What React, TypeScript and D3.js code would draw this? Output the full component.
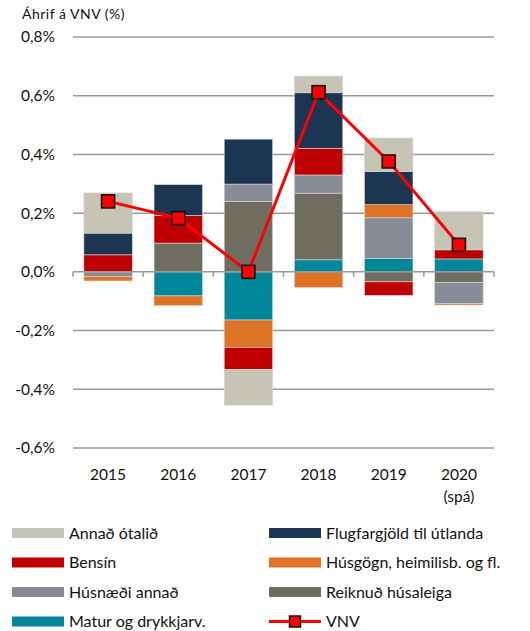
import { useRef, useEffect } from "react";
import * as d3 from "d3";

const years = ["2015", "2016", "2017", "2018", "2019", "2020"];
const yearSub = ["", "", "", "", "", "(spá)"];

// stacking order (bottom up)
const seriesNames = [
  "Matur og drykkjarv.",
  "Reiknuð húsaleiga",
  "Húsnæði annað",
  "Húsgögn, heimilisb. og fl.",
  "Bensín",
  "Flugfargjöld til útlanda",
  "Annað ótalið",
];
const seriesColors = ["#00889a", "#6e6d5f", "#878c96", "#e07426", "#c00000", "#1c3553", "#c6c5b5"];

const matur = [0, -0.082, -0.164, 0.041, 0.045, 0.044];
const reiknud = [0, 0.098, 0.24, 0.227, -0.034, -0.037];
const husnaedi = [-0.016, 0, 0.059, 0.062, 0.139, -0.071];
const husgogn = [-0.015, -0.033, -0.093, -0.053, 0.045, -0.005];
const bensin = [0.058, 0.094, -0.075, 0.091, -0.046, 0.031];
const flug = [0.074, 0.105, 0.153, 0.189, 0.113, 0];
const annad = [0.137, 0, -0.122, 0.057, 0.114, 0.13];
const vnv = [0.24, 0.183, 0.0, 0.612, 0.376, 0.092];

const yTicks = [0.8, 0.6, 0.4, 0.2, 0.0, -0.2, -0.4, -0.6];

// legend, two columns, read row by row
const legendItems = [
  "Annað ótalið",
  "Flugfargjöld til útlanda",
  "Bensín",
  "Húsgögn, heimilisb. og fl.",
  "Húsnæði annað",
  "Reiknuð húsaleiga",
  "Matur og drykkjarv.",
  "VNV",
];

const FONT = "Lato, 'Open Sans', sans-serif";

export default function App() {
  const svgRef = useRef<SVGSVGElement | null>(null);

  useEffect(() => {
    if (!svgRef.current) return;
    const svg = d3.select(svgRef.current);
    svg.selectAll("*").remove();

    const width = 530;
    const margin = { left: 73, right: 36 };

    const x = d3
      .scaleBand()
      .domain(years)
      .range([margin.left, width - margin.right])
      .paddingInner(0.31)
      .paddingOuter(0.155);

    const y = d3.scaleLinear().domain([-0.6, 0.8]).range([448, 37]);

    // gridlines
    svg
      .append("g")
      .selectAll("line")
      .data(yTicks.filter((t) => t !== 0))
      .join("line")
      .attr("x1", margin.left)
      .attr("x2", width - margin.right)
      .attr("y1", (d) => y(d))
      .attr("y2", (d) => y(d))
      .attr("stroke", "#9a9a9a")
      .attr("stroke-width", 1.5);

    // y labels
    svg
      .append("g")
      .selectAll("text")
      .data(yTicks)
      .join("text")
      .attr("x", 55)
      .attr("y", (d) => y(d))
      .attr("dy", "0.35em")
      .attr("text-anchor", "end")
      .attr("font-family", FONT)
      .attr("font-size", 15.5)
      .attr("fill", "#111")
      .text((d) => d3.format(".1f")(d).replace(".", ",").replace("−", "-") + "%");

    svg
      .append("text")
      .attr("x", 22)
      .attr("y", 19)
      .attr("font-family", FONT)
      .attr("font-size", 14)
      .attr("letter-spacing", 0.5)
      .attr("fill", "#111")
      .text("Áhrif á VNV (%)");

    // stacked bars
    const seriesData = [matur, reiknud, husnaedi, husgogn, bensin, flug, annad];
    const table = years.map((yr, i) => {
      const row: Record<string, any> = { year: yr };
      seriesNames.forEach((n, k) => (row[n] = seriesData[k][i]));
      return row;
    });
    const stack = d3.stack<any>().keys(seriesNames).offset(d3.stackOffsetDiverging)(table);

    svg
      .append("g")
      .selectAll("g")
      .data(stack)
      .join("g")
      .attr("fill", (_, i) => seriesColors[i])
      .selectAll("rect")
      .data((d) => d)
      .join("rect")
      .attr("x", (d) => x(d.data.year)!)
      .attr("width", x.bandwidth())
      .attr("y", (d) => y(Math.max(d[0], d[1])))
      .attr("height", (d) => Math.abs(y(d[0]) - y(d[1])))
      .attr("stroke", "#d8d8d8")
      .attr("stroke-width", (d) => (Math.abs(d[1] - d[0]) > 0.001 ? 0.6 : 0));

    // zero axis with ticks
    const axisG = svg.append("g").attr("stroke", "#9a9a9a").attr("stroke-width", 1.5);
    axisG
      .append("line")
      .attr("x1", margin.left)
      .attr("x2", width - margin.right)
      .attr("y1", y(0))
      .attr("y2", y(0));
    const step = x.step();
    const boundaries = d3.range(years.length + 1).map((i) => margin.left + i * step);
    axisG
      .selectAll("line.tick")
      .data(boundaries)
      .join("line")
      .attr("class", "tick")
      .attr("x1", (d) => d)
      .attr("x2", (d) => d)
      .attr("y1", y(0))
      .attr("y2", y(0) + 5);

    // x labels
    const xl = svg.append("g").attr("font-family", FONT).attr("font-size", 15.5).attr("fill", "#111");
    xl.selectAll("text.yr")
      .data(years)
      .join("text")
      .attr("class", "yr")
      .attr("x", (d) => x(d)! + x.bandwidth() / 2)
      .attr("y", 480)
      .attr("text-anchor", "middle")
      .text((d) => d);
    xl.selectAll("text.sub")
      .data(years.map((d, i) => ({ d, s: yearSub[i] })).filter((o) => o.s))
      .join("text")
      .attr("class", "sub")
      .attr("x", (o) => x(o.d)! + x.bandwidth() / 2)
      .attr("y", 502)
      .attr("text-anchor", "middle")
      .text((o) => o.s);

    // VNV line
    const line = d3
      .line<number>()
      .x((_, i) => x(years[i])! + x.bandwidth() / 2)
      .y((d) => y(d));
    svg
      .append("path")
      .datum(vnv)
      .attr("fill", "none")
      .attr("stroke", "#ff0000")
      .attr("stroke-width", 3)
      .attr("d", line);
    svg
      .append("g")
      .selectAll("rect")
      .data(vnv)
      .join("rect")
      .attr("x", (_, i) => x(years[i])! + x.bandwidth() / 2 - 6.5)
      .attr("y", (d) => y(d) - 6.5)
      .attr("width", 13)
      .attr("height", 13)
      .attr("fill", "#ff0000")
      .attr("stroke", "#111")
      .attr("stroke-width", 1.6);

    // legend
    const lg = svg.append("g").attr("font-family", FONT).attr("font-size", 16).attr("fill", "#111");
    legendItems.forEach((name, i) => {
      const col = i % 2;
      const row = Math.floor(i / 2);
      const lx = col === 0 ? 12 : 269;
      const ly = 533 + row * 29.5;
      if (name === "VNV") {
        lg.append("line")
          .attr("x1", lx)
          .attr("x2", lx + 52)
          .attr("y1", ly)
          .attr("y2", ly)
          .attr("stroke", "#ff0000")
          .attr("stroke-width", 3);
        lg.append("rect")
          .attr("x", lx + 26 - 5.5)
          .attr("y", ly - 5.5)
          .attr("width", 11)
          .attr("height", 11)
          .attr("fill", "#ff0000")
          .attr("stroke", "#111")
          .attr("stroke-width", 1.5);
      } else {
        const k = seriesNames.indexOf(name);
        lg.append("rect")
          .attr("x", lx)
          .attr("y", ly - 5)
          .attr("width", 52)
          .attr("height", 10)
          .attr("fill", seriesColors[k]);
      }
      lg.append("text")
        .attr("x", lx + 57)
        .attr("y", ly)
        .attr("dy", "0.35em")
        .text(name);
    });
  }, []);

  return (
    <div style={{ position: "absolute", left: 0, top: 0, background: "#fff" }}>
      <svg ref={svgRef} width={530} height={631} style={{ display: "block" }}></svg>
    </div>
  );
}
